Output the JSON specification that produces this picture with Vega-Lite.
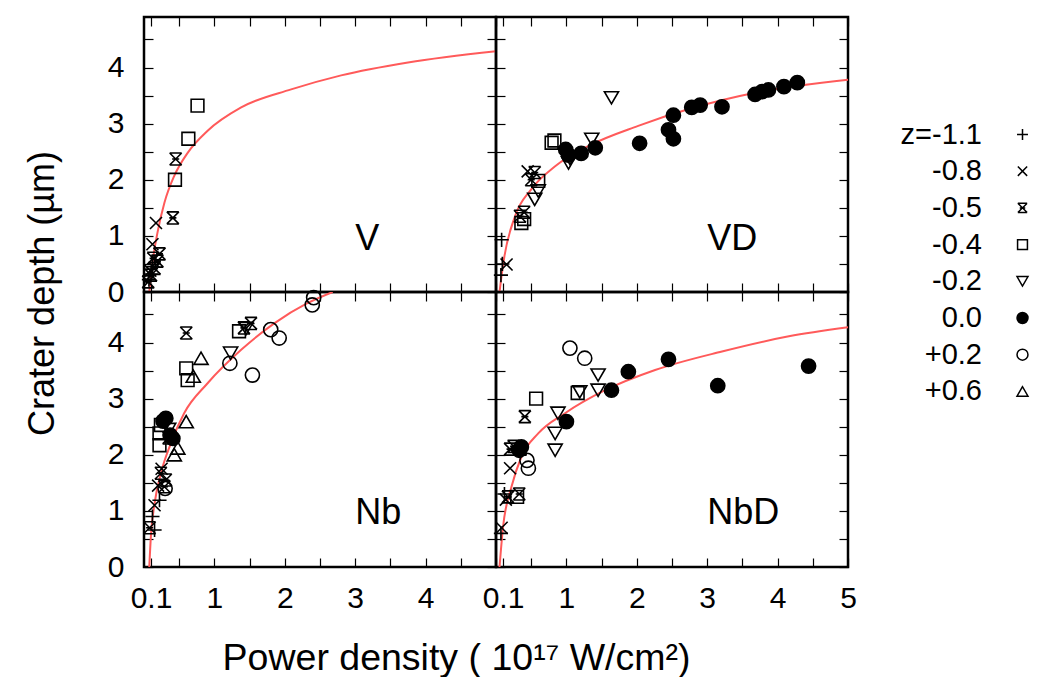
{
  "$schema": "https://vega.github.io/schema/vega-lite/v6.json",
  "padding": {"left": 22, "top": 15, "right": 0, "bottom": 0},
  "background": "white",
  "datasets": {
    "pts": [
      {"panel": "V", "z": "-1.1", "x": 0.07, "y": 0.22},
      {"panel": "V", "z": "-1.1", "x": 0.1, "y": 0.32},
      {"panel": "V", "z": "-1.1", "x": 0.12, "y": 0.45},
      {"panel": "V", "z": "-0.8", "x": 0.17, "y": 1.23},
      {"panel": "V", "z": "-0.8", "x": 0.12, "y": 0.85},
      {"panel": "V", "z": "-0.8", "x": 0.09, "y": 0.38},
      {"panel": "V", "z": "-0.5", "x": 0.45, "y": 2.37},
      {"panel": "V", "z": "-0.5", "x": 0.41, "y": 1.32},
      {"panel": "V", "z": "-0.5", "x": 0.22, "y": 0.68},
      {"panel": "V", "z": "-0.5", "x": 0.19, "y": 0.55},
      {"panel": "V", "z": "-0.5", "x": 0.15, "y": 0.42},
      {"panel": "V", "z": "-0.5", "x": 0.1, "y": 0.3},
      {"panel": "V", "z": "-0.5", "x": 0.06, "y": 0.18},
      {"panel": "V", "z": "-0.5", "x": 0.13, "y": 0.6},
      {"panel": "V", "z": "-0.4", "x": 0.76, "y": 3.32},
      {"panel": "V", "z": "-0.4", "x": 0.63, "y": 2.73},
      {"panel": "V", "z": "-0.4", "x": 0.44, "y": 2.0},

      {"panel": "VD", "z": "-1.1", "x": 0.08, "y": 0.93},
      {"panel": "VD", "z": "-1.1", "x": 0.07, "y": 0.3},
      {"panel": "VD", "z": "-1.1", "x": 0.09, "y": 0.5},
      {"panel": "VD", "z": "-0.8", "x": 0.15, "y": 0.49},
      {"panel": "VD", "z": "-0.8", "x": 0.45, "y": 2.15},
      {"panel": "VD", "z": "-0.5", "x": 0.55, "y": 2.13},
      {"panel": "VD", "z": "-0.5", "x": 0.34, "y": 1.35},
      {"panel": "VD", "z": "-0.5", "x": 0.4, "y": 1.42},
      {"panel": "VD", "z": "-0.5", "x": 0.5, "y": 2.0},
      {"panel": "VD", "z": "-0.4", "x": 0.79, "y": 2.66},
      {"panel": "VD", "z": "-0.4", "x": 0.83, "y": 2.7},
      {"panel": "VD", "z": "-0.4", "x": 0.36, "y": 1.23},
      {"panel": "VD", "z": "-0.4", "x": 0.6, "y": 1.98},
      {"panel": "VD", "z": "-0.4", "x": 0.4, "y": 1.3},
      {"panel": "VD", "z": "-0.2", "x": 1.64, "y": 3.46},
      {"panel": "VD", "z": "-0.2", "x": 1.36, "y": 2.72},
      {"panel": "VD", "z": "-0.2", "x": 1.03, "y": 2.3},
      {"panel": "VD", "z": "-0.2", "x": 0.55, "y": 1.65},
      {"panel": "VD", "z": "-0.2", "x": 0.6, "y": 1.8},
      {"panel": "VD", "z": "-0.2", "x": 1.05, "y": 2.38},
      {"panel": "VD", "z": "0.0", "x": 4.28, "y": 3.73},
      {"panel": "VD", "z": "0.0", "x": 4.09, "y": 3.66},
      {"panel": "VD", "z": "0.0", "x": 3.87, "y": 3.6},
      {"panel": "VD", "z": "0.0", "x": 3.78, "y": 3.57},
      {"panel": "VD", "z": "0.0", "x": 3.68, "y": 3.52},
      {"panel": "VD", "z": "0.0", "x": 3.21, "y": 3.3},
      {"panel": "VD", "z": "0.0", "x": 2.9, "y": 3.33},
      {"panel": "VD", "z": "0.0", "x": 2.78, "y": 3.29},
      {"panel": "VD", "z": "0.0", "x": 2.52, "y": 3.15},
      {"panel": "VD", "z": "0.0", "x": 2.45, "y": 2.89},
      {"panel": "VD", "z": "0.0", "x": 2.52, "y": 2.73},
      {"panel": "VD", "z": "0.0", "x": 2.04, "y": 2.65},
      {"panel": "VD", "z": "0.0", "x": 1.41, "y": 2.57},
      {"panel": "VD", "z": "0.0", "x": 1.21, "y": 2.47},
      {"panel": "VD", "z": "0.0", "x": 0.99, "y": 2.54},
      {"panel": "VD", "z": "0.0", "x": 1.03, "y": 2.44},

      {"panel": "Nb", "z": "-1.1", "x": 0.15, "y": 0.66},
      {"panel": "Nb", "z": "-1.1", "x": 0.22, "y": 1.19},
      {"panel": "Nb", "z": "-1.1", "x": 0.12, "y": 0.9},
      {"panel": "Nb", "z": "-0.8", "x": 0.2, "y": 1.45},
      {"panel": "Nb", "z": "-0.8", "x": 0.25, "y": 1.75},
      {"panel": "Nb", "z": "-0.8", "x": 0.15, "y": 1.1},
      {"panel": "Nb", "z": "-0.5", "x": 0.6, "y": 4.17},
      {"panel": "Nb", "z": "-0.5", "x": 1.42, "y": 4.26},
      {"panel": "Nb", "z": "-0.5", "x": 1.52, "y": 4.34},
      {"panel": "Nb", "z": "-0.5", "x": 0.29, "y": 1.43},
      {"panel": "Nb", "z": "-0.5", "x": 0.24, "y": 1.67},
      {"panel": "Nb", "z": "-0.5", "x": 0.08, "y": 0.7},
      {"panel": "Nb", "z": "-0.5", "x": 0.31, "y": 1.55},
      {"panel": "Nb", "z": "-0.5", "x": 0.35, "y": 2.3},
      {"panel": "Nb", "z": "-0.4", "x": 0.6, "y": 3.54},
      {"panel": "Nb", "z": "-0.4", "x": 0.62, "y": 3.33},
      {"panel": "Nb", "z": "-0.4", "x": 0.22, "y": 2.38},
      {"panel": "Nb", "z": "-0.4", "x": 0.22, "y": 2.17},
      {"panel": "Nb", "z": "-0.4", "x": 0.24, "y": 2.53},
      {"panel": "Nb", "z": "-0.4", "x": 1.35, "y": 4.2},
      {"panel": "Nb", "z": "-0.2", "x": 1.23, "y": 3.81},
      {"panel": "Nb", "z": "-0.2", "x": 1.45, "y": 4.25},
      {"panel": "Nb", "z": "-0.2", "x": 0.35, "y": 2.45},
      {"panel": "Nb", "z": "0.0", "x": 0.31, "y": 2.65},
      {"panel": "Nb", "z": "0.0", "x": 0.41, "y": 2.29},
      {"panel": "Nb", "z": "0.0", "x": 0.37, "y": 2.35},
      {"panel": "Nb", "z": "0.0", "x": 0.27, "y": 2.6},
      {"panel": "Nb", "z": "+0.2", "x": 2.39, "y": 4.67},
      {"panel": "Nb", "z": "+0.2", "x": 2.41, "y": 4.8},
      {"panel": "Nb", "z": "+0.2", "x": 1.8, "y": 4.23},
      {"panel": "Nb", "z": "+0.2", "x": 1.92, "y": 4.08},
      {"panel": "Nb", "z": "+0.2", "x": 1.54, "y": 3.42},
      {"panel": "Nb", "z": "+0.2", "x": 1.22, "y": 3.63},
      {"panel": "Nb", "z": "+0.2", "x": 0.3, "y": 1.4},
      {"panel": "Nb", "z": "+0.6", "x": 0.81, "y": 3.72},
      {"panel": "Nb", "z": "+0.6", "x": 0.6, "y": 2.59},
      {"panel": "Nb", "z": "+0.6", "x": 0.48, "y": 2.12},
      {"panel": "Nb", "z": "+0.6", "x": 0.43, "y": 2.0},
      {"panel": "Nb", "z": "+0.6", "x": 0.7, "y": 3.4},

      {"panel": "NbD", "z": "-1.1", "x": 0.07, "y": 0.6},
      {"panel": "NbD", "z": "-1.1", "x": 0.12, "y": 1.3},
      {"panel": "NbD", "z": "-0.8", "x": 0.2, "y": 1.76},
      {"panel": "NbD", "z": "-0.8", "x": 0.08, "y": 0.7},
      {"panel": "NbD", "z": "-0.8", "x": 0.14, "y": 1.2},
      {"panel": "NbD", "z": "-0.5", "x": 0.41, "y": 2.68},
      {"panel": "NbD", "z": "-0.5", "x": 0.2, "y": 2.1},
      {"panel": "NbD", "z": "-0.5", "x": 0.35, "y": 2.1},
      {"panel": "NbD", "z": "-0.5", "x": 0.17, "y": 1.25},
      {"panel": "NbD", "z": "-0.5", "x": 0.33, "y": 1.3},
      {"panel": "NbD", "z": "-0.5", "x": 0.25, "y": 2.15},
      {"panel": "NbD", "z": "-0.4", "x": 0.57, "y": 3.0},
      {"panel": "NbD", "z": "-0.4", "x": 1.16, "y": 3.1},
      {"panel": "NbD", "z": "-0.4", "x": 0.3, "y": 1.25},
      {"panel": "NbD", "z": "-0.2", "x": 1.45, "y": 3.42},
      {"panel": "NbD", "z": "-0.2", "x": 1.45, "y": 3.15},
      {"panel": "NbD", "z": "-0.2", "x": 1.19, "y": 3.12},
      {"panel": "NbD", "z": "-0.2", "x": 0.88, "y": 2.74},
      {"panel": "NbD", "z": "-0.2", "x": 0.84, "y": 2.38},
      {"panel": "NbD", "z": "-0.2", "x": 0.84, "y": 2.08},
      {"panel": "NbD", "z": "0.0", "x": 4.44, "y": 3.58},
      {"panel": "NbD", "z": "0.0", "x": 3.15, "y": 3.23},
      {"panel": "NbD", "z": "0.0", "x": 2.45, "y": 3.7},
      {"panel": "NbD", "z": "0.0", "x": 1.88, "y": 3.48},
      {"panel": "NbD", "z": "0.0", "x": 1.64, "y": 3.15},
      {"panel": "NbD", "z": "0.0", "x": 1.0, "y": 2.59},
      {"panel": "NbD", "z": "0.0", "x": 0.36, "y": 2.14},
      {"panel": "NbD", "z": "0.0", "x": 0.33, "y": 2.08},
      {"panel": "NbD", "z": "+0.2", "x": 1.05, "y": 3.9},
      {"panel": "NbD", "z": "+0.2", "x": 1.26, "y": 3.72},
      {"panel": "NbD", "z": "+0.2", "x": 0.46, "y": 1.76},
      {"panel": "NbD", "z": "+0.2", "x": 0.44, "y": 1.9}
    ],
    "fit": [
      {"panel": "V", "x": 0.075, "y": 0.0},
      {"panel": "V", "x": 0.12, "y": 0.52},
      {"panel": "V", "x": 0.19, "y": 1.05},
      {"panel": "V", "x": 0.29, "y": 1.59},
      {"panel": "V", "x": 0.43, "y": 2.07},
      {"panel": "V", "x": 0.62, "y": 2.48},
      {"panel": "V", "x": 0.9, "y": 2.87},
      {"panel": "V", "x": 1.38, "y": 3.29},
      {"panel": "V", "x": 2.09, "y": 3.61},
      {"panel": "V", "x": 2.8, "y": 3.86},
      {"panel": "V", "x": 3.75, "y": 4.09},
      {"panel": "V", "x": 5.0, "y": 4.29},
      {"panel": "VD", "x": 0.05, "y": 0.0},
      {"panel": "VD", "x": 0.08, "y": 0.3},
      {"panel": "VD", "x": 0.12, "y": 0.64},
      {"panel": "VD", "x": 0.27, "y": 1.35},
      {"panel": "VD", "x": 0.5, "y": 1.83},
      {"panel": "VD", "x": 0.84, "y": 2.24},
      {"panel": "VD", "x": 1.31, "y": 2.6},
      {"panel": "VD", "x": 2.02, "y": 2.96},
      {"panel": "VD", "x": 2.74, "y": 3.26},
      {"panel": "VD", "x": 3.68, "y": 3.55},
      {"panel": "VD", "x": 5.0, "y": 3.78},
      {"panel": "Nb", "x": 0.075, "y": 0.0},
      {"panel": "Nb", "x": 0.1, "y": 0.59},
      {"panel": "Nb", "x": 0.15, "y": 1.13},
      {"panel": "Nb", "x": 0.24, "y": 1.67},
      {"panel": "Nb", "x": 0.38, "y": 2.2},
      {"panel": "Nb", "x": 0.57, "y": 2.74},
      {"panel": "Nb", "x": 0.9, "y": 3.27},
      {"panel": "Nb", "x": 1.38, "y": 3.87},
      {"panel": "Nb", "x": 1.85, "y": 4.34},
      {"panel": "Nb", "x": 2.32, "y": 4.7},
      {"panel": "Nb", "x": 2.68, "y": 4.9},
      {"panel": "NbD", "x": 0.05, "y": 0.0},
      {"panel": "NbD", "x": 0.1, "y": 0.71},
      {"panel": "NbD", "x": 0.22, "y": 1.43},
      {"panel": "NbD", "x": 0.36, "y": 1.96},
      {"panel": "NbD", "x": 0.6, "y": 2.38},
      {"panel": "NbD", "x": 0.98, "y": 2.74},
      {"panel": "NbD", "x": 1.55, "y": 3.15},
      {"panel": "NbD", "x": 2.26, "y": 3.51},
      {"panel": "NbD", "x": 3.21, "y": 3.84},
      {"panel": "NbD", "x": 4.16, "y": 4.11},
      {"panel": "NbD", "x": 5.0, "y": 4.27}
    ]
  },
  "columns": 2,
  "spacing": 0,
  "bounds": "flush",
  "concat": [
    {
      "width": 352, "height": 275,
      "resolve": {"axis": {"x": "independent", "y": "independent"}},
      "layer": [
        {
          "data": {"name": "fit"},
          "transform": [{"filter": "datum.panel == 'V'"}],
          "mark": {"type": "line", "color": "#ff5a5a", "strokeWidth": 2, "clip": true, "interpolate": "monotone"},
          "encoding": {
            "x": {"field": "x", "type": "quantitative", "scale": {"domain": [0, 5], "nice": false, "zero": false}, "axis": {"orient": "top", "values": [0.1, 0.5, 1, 1.5, 2, 2.5, 3, 3.5, 4, 4.5, 5], "labels": false, "title": null}},
            "y": {"field": "y", "type": "quantitative", "scale": {"domain": [0, 4.9], "nice": false, "zero": false}, "axis": {"orient": "right", "values": [0, 0.5, 1, 1.5, 2, 2.5, 3, 3.5, 4, 4.5], "labels": false, "title": null}}
          }
        },
        {
          "data": {"name": "pts"},
          "transform": [{"filter": "datum.panel == 'V'"}],
          "mark": {"type": "point", "stroke": "black", "strokeWidth": 1.6, "size": 200, "opacity": 1, "filled": true},
          "encoding": {
            "x": {"field": "x", "type": "quantitative", "axis": {"orient": "bottom", "values": [0.1, 0.5, 1, 1.5, 2, 2.5, 3, 3.5, 4, 4.5, 5], "labels": false, "title": null}},
            "y": {"field": "y", "type": "quantitative", "axis": {"orient": "left", "values": [0, 0.5, 1, 1.5, 2, 2.5, 3, 3.5, 4, 4.5], "labelExpr": "datum.value % 1 == 0 ? format(datum.value, 'd') : ''", "labelPadding": 29, "title": "Crater depth (µm)", "titleX": -91, "titleY": 276, "titleAngle": 270, "titleAlign": "center", "titleBaseline": "alphabetic"}},
            "shape": {"field": "z", "type": "nominal", "scale": {"domain": ["-1.1", "-0.8", "-0.5", "-0.4", "-0.2", "0.0", "+0.2", "+0.6"], "range": ["M-1,0L1,0M0,-1L0,1", "M-0.85,-0.85L0.85,0.85M-0.85,0.85L0.85,-0.85", "M-0.85,-0.85L0.85,0.85M-0.85,0.85L0.85,-0.85M-0.85,-0.85L0.85,-0.85M-0.85,0.85L0.85,0.85M-0.5,0L0.5,0", "M-0.9,-0.9L0.9,-0.9L0.9,0.9L-0.9,0.9Z", "triangle-down", "circle", "circle", "triangle-up"]}, "legend": {"orient": "none", "legendX": 864, "legendY": 103, "title": null, "labelAlign": "right", "labelOffset": -55, "labelFontSize": 29, "labelFont": "Liberation Sans", "labelColor": "black", "symbolSize": 120, "rowPadding": 6.7, "labelExpr": "datum.value == '-1.1' ? 'z=-1.1' : datum.value", "encode": {"symbols": {"update": {"stroke": {"value": "#333333"}, "strokeWidth": {"value": 1.5}}}}}},
            "fill": {"field": "z", "type": "nominal", "scale": {"domain": ["-1.1", "-0.8", "-0.5", "-0.4", "-0.2", "0.0", "+0.2", "+0.6"], "range": ["transparent", "transparent", "transparent", "transparent", "transparent", "black", "transparent", "transparent"]}, "legend": {"orient": "none", "legendX": 864, "legendY": 103, "title": null, "labelAlign": "right", "labelOffset": -55, "labelFontSize": 29, "labelFont": "Liberation Sans", "labelColor": "black", "symbolSize": 120, "rowPadding": 6.7, "labelExpr": "datum.value == '-1.1' ? 'z=-1.1' : datum.value", "encode": {"symbols": {"update": {"stroke": {"value": "#333333"}, "strokeWidth": {"value": 1.5}}}}}}
          }
        },
        {
          "data": {"values": [{}]},
          "mark": {"type": "text", "fontSize": 36, "align": "left", "baseline": "alphabetic", "font": "Liberation Sans", "color": "black"},
          "encoding": {"x": {"datum": 3, "type": "quantitative", "axis": null}, "y": {"datum": 0.74, "type": "quantitative", "axis": null}, "text": {"value": "V"}}
        }
      ]
    },
    {
      "width": 352, "height": 275,
      "resolve": {"axis": {"x": "independent", "y": "independent"}},
      "layer": [
        {
          "data": {"name": "fit"},
          "transform": [{"filter": "datum.panel == 'VD'"}],
          "mark": {"type": "line", "color": "#ff5a5a", "strokeWidth": 2, "clip": true, "interpolate": "monotone"},
          "encoding": {
            "x": {"field": "x", "type": "quantitative", "scale": {"domain": [0, 5], "nice": false, "zero": false}, "axis": {"orient": "top", "values": [0.1, 0.5, 1, 1.5, 2, 2.5, 3, 3.5, 4, 4.5, 5], "labels": false, "title": null}},
            "y": {"field": "y", "type": "quantitative", "scale": {"domain": [0, 4.9], "nice": false, "zero": false}, "axis": {"orient": "right", "values": [0, 0.5, 1, 1.5, 2, 2.5, 3, 3.5, 4, 4.5], "labels": false, "title": null}}
          }
        },
        {
          "data": {"name": "pts"},
          "transform": [{"filter": "datum.panel == 'VD'"}],
          "mark": {"type": "point", "stroke": "black", "strokeWidth": 1.6, "size": 200, "opacity": 1, "filled": true},
          "encoding": {
            "x": {"field": "x", "type": "quantitative", "axis": {"orient": "bottom", "values": [0.1, 0.5, 1, 1.5, 2, 2.5, 3, 3.5, 4, 4.5, 5], "labels": false, "title": null}},
            "y": {"field": "y", "type": "quantitative", "axis": {"orient": "left", "values": [0, 0.5, 1, 1.5, 2, 2.5, 3, 3.5, 4, 4.5], "labels": false, "title": null}},
            "shape": {"field": "z", "type": "nominal"},
            "fill": {"field": "z", "type": "nominal"}
          }
        },
        {
          "data": {"values": [{}]},
          "mark": {"type": "text", "fontSize": 36, "align": "left", "baseline": "alphabetic", "font": "Liberation Sans", "color": "black"},
          "encoding": {"x": {"datum": 3, "type": "quantitative", "axis": null}, "y": {"datum": 0.74, "type": "quantitative", "axis": null}, "text": {"value": "VD"}}
        }
      ]
    },
    {
      "width": 352, "height": 275,
      "resolve": {"axis": {"x": "independent", "y": "independent"}},
      "layer": [
        {
          "data": {"name": "fit"},
          "transform": [{"filter": "datum.panel == 'Nb'"}],
          "mark": {"type": "line", "color": "#ff5a5a", "strokeWidth": 2, "clip": true, "interpolate": "monotone"},
          "encoding": {
            "x": {"field": "x", "type": "quantitative", "scale": {"domain": [0, 5], "nice": false, "zero": false}, "axis": {"orient": "top", "values": [0.1, 0.5, 1, 1.5, 2, 2.5, 3, 3.5, 4, 4.5, 5], "labels": false, "title": null}},
            "y": {"field": "y", "type": "quantitative", "scale": {"domain": [0, 4.9], "nice": false, "zero": false}, "axis": {"orient": "right", "values": [0, 0.5, 1, 1.5, 2, 2.5, 3, 3.5, 4, 4.5], "labels": false, "title": null}}
          }
        },
        {
          "data": {"name": "pts"},
          "transform": [{"filter": "datum.panel == 'Nb'"}],
          "mark": {"type": "point", "stroke": "black", "strokeWidth": 1.6, "size": 200, "opacity": 1, "filled": true},
          "encoding": {
            "x": {"field": "x", "type": "quantitative", "axis": {"orient": "bottom", "values": [0.1, 0.5, 1, 1.5, 2, 2.5, 3, 3.5, 4, 4.5, 5], "labelExpr": "datum.value == 0.1 ? '0.1' : (datum.value % 1 == 0 && datum.value < 5 ? format(datum.value, 'd') : '')", "labelPadding": 25, "title": "Power density ( 10¹⁷ W/cm²)", "titleFontSize": 37.5, "titleX": 312, "titleY": 102, "titleAlign": "center", "titleBaseline": "alphabetic"}},
            "y": {"field": "y", "type": "quantitative", "axis": {"orient": "left", "values": [0, 0.5, 1, 1.5, 2, 2.5, 3, 3.5, 4, 4.5], "labelExpr": "datum.value % 1 == 0 ? format(datum.value, 'd') : ''", "labelPadding": 29, "title": null}},
            "shape": {"field": "z", "type": "nominal"},
            "fill": {"field": "z", "type": "nominal"}
          }
        },
        {
          "data": {"values": [{}]},
          "mark": {"type": "text", "fontSize": 36, "align": "left", "baseline": "alphabetic", "font": "Liberation Sans", "color": "black"},
          "encoding": {"x": {"datum": 3, "type": "quantitative", "axis": null}, "y": {"datum": 0.77, "type": "quantitative", "axis": null}, "text": {"value": "Nb"}}
        }
      ]
    },
    {
      "width": 352, "height": 275,
      "resolve": {"axis": {"x": "independent", "y": "independent"}},
      "layer": [
        {
          "data": {"name": "fit"},
          "transform": [{"filter": "datum.panel == 'NbD'"}],
          "mark": {"type": "line", "color": "#ff5a5a", "strokeWidth": 2, "clip": true, "interpolate": "monotone"},
          "encoding": {
            "x": {"field": "x", "type": "quantitative", "scale": {"domain": [0, 5], "nice": false, "zero": false}, "axis": {"orient": "top", "values": [0.1, 0.5, 1, 1.5, 2, 2.5, 3, 3.5, 4, 4.5, 5], "labels": false, "title": null}},
            "y": {"field": "y", "type": "quantitative", "scale": {"domain": [0, 4.9], "nice": false, "zero": false}, "axis": {"orient": "right", "values": [0, 0.5, 1, 1.5, 2, 2.5, 3, 3.5, 4, 4.5], "labels": false, "title": null}}
          }
        },
        {
          "data": {"name": "pts"},
          "transform": [{"filter": "datum.panel == 'NbD'"}],
          "mark": {"type": "point", "stroke": "black", "strokeWidth": 1.6, "size": 200, "opacity": 1, "filled": true},
          "encoding": {
            "x": {"field": "x", "type": "quantitative", "axis": {"orient": "bottom", "values": [0.1, 0.5, 1, 1.5, 2, 2.5, 3, 3.5, 4, 4.5, 5], "labelExpr": "datum.value == 0.1 ? '0.1' : (datum.value % 1 == 0 ? format(datum.value, 'd') : '')", "labelPadding": 25, "title": null}},
            "y": {"field": "y", "type": "quantitative", "axis": {"orient": "left", "values": [0, 0.5, 1, 1.5, 2, 2.5, 3, 3.5, 4, 4.5], "labels": false, "title": null}},
            "shape": {"field": "z", "type": "nominal"},
            "fill": {"field": "z", "type": "nominal"}
          }
        },
        {
          "data": {"values": [{}]},
          "mark": {"type": "text", "fontSize": 36, "align": "left", "baseline": "alphabetic", "font": "Liberation Sans", "color": "black"},
          "encoding": {"x": {"datum": 3, "type": "quantitative", "axis": null}, "y": {"datum": 0.77, "type": "quantitative", "axis": null}, "text": {"value": "NbD"}}
        }
      ]
    }
  ],
  "config": {
    "font": "Liberation Sans",
    "view": {"stroke": "black", "strokeWidth": 2.5},
    "axis": {"grid": false, "domain": false, "tickSize": -9, "tickColor": "black", "tickWidth": 1.2, "labelFont": "Liberation Sans", "labelFontSize": 30, "labelColor": "black", "labelFlush": false, "labelOverlap": false, "labelPadding": 20, "titleFont": "Liberation Sans", "titleFontSize": 36, "titleFontWeight": "normal", "titleColor": "black"}
  }
}
